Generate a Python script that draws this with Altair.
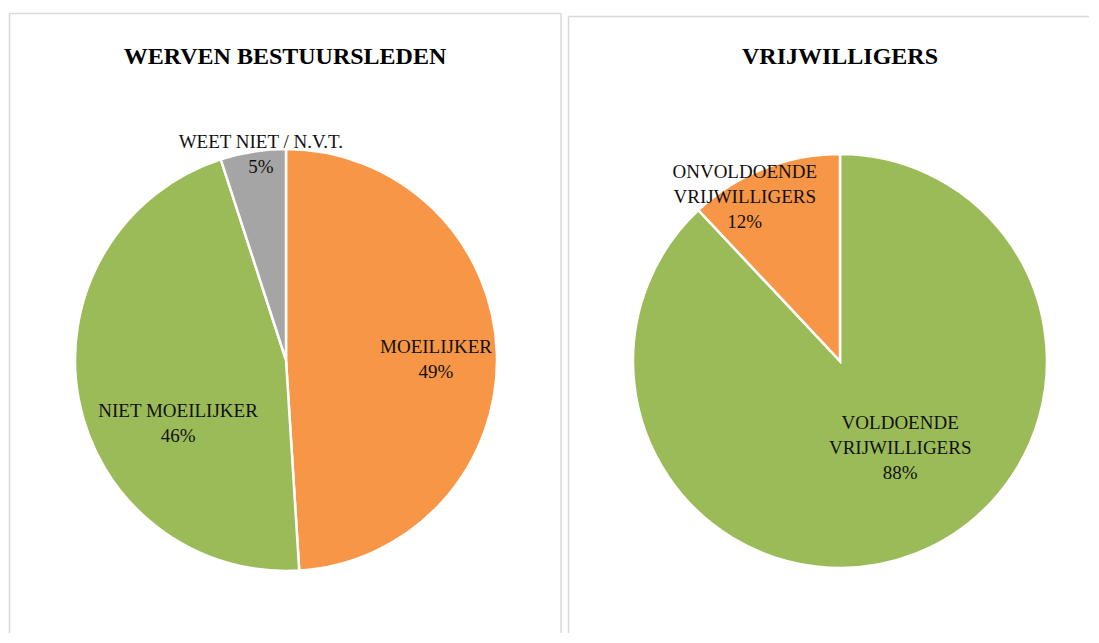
import altair as alt
import pandas as pd

# ---------------- data ----------------
left_title = "WERVEN BESTUURSLEDEN"
left_categories = ["MOEILIJKER", "NIET MOEILIJKER", "WEET NIET / N.V.T."]
left_label_names = ["MOEILIJKER", "NIET MOEILIJKER", "WEET NIET / N.V.T."]
left_values = [49, 46, 5]
left_colors = ["#F79646", "#9BBB59", "#A5A5A5"]

right_title = "VRIJWILLIGERS"
right_categories = ["VOLDOENDE VRIJWILLIGERS", "ONVOLDOENDE VRIJWILLIGERS"]
right_label_names = ["VOLDOENDE\nVRIJWILLIGERS", "ONVOLDOENDE\nVRIJWILLIGERS"]
right_values = [88, 12]
right_colors = ["#9BBB59", "#F79646"]

FONT = "Liberation Serif"
BORDER = "#d9d9d9"
H = 625
LINE_H = 25


def rule_v(x, y0, y1):
    return alt.Chart(pd.DataFrame({"a": [0]})).mark_rule(color=BORDER, strokeWidth=1.5).encode(
        x=alt.value(x), y=alt.value(y0), y2=alt.value(y1))


def rule_h(y, x0, x1):
    return alt.Chart(pd.DataFrame({"a": [0]})).mark_rule(color=BORDER, strokeWidth=1.5).encode(
        y=alt.value(y), x=alt.value(x0), x2=alt.value(x1))


def panel(title, cats, names, values, colors, W, cx, cy, r, label_specs, borders, title_xy):
    labels = [f"{n}\n{v}%" for n, v in zip(names, values)]
    df = pd.DataFrame({
        "cat": cats,
        "value": values,
        "idx": list(range(len(cats))),
        "label": labels,
    })
    nlines = {c: lab.count("\n") + 1 for c, lab in zip(cats, labels)}
    base = alt.Chart(df)
    theta = alt.Theta("value:Q", stack=True)
    order = alt.Order("idx:Q")
    arcs = base.mark_arc(radius=r, stroke="white", strokeWidth=2.5).encode(
        theta=theta,
        order=order,
        color=alt.Color("cat:N", scale=alt.Scale(domain=cats, range=colors), legend=None),
        x=alt.value(cx),
        y=alt.value(cy),
    )
    layers = list(borders) + [arcs]
    for cat, rad, off in label_specs:
        layers.append(
            base.mark_text(
                radius=rad, thetaOffset=off, font=FONT, fontSize=19, lineHeight=LINE_H,
                lineBreak="\n", align="center", baseline="middle", color="#111111",
                dy=-(nlines[cat] - 1) * LINE_H / 2,
            ).encode(
                theta=theta,
                order=order,
                text=alt.condition(alt.datum.cat == cat, alt.Text("label:N"), alt.value("")),
                x=alt.value(cx),
                y=alt.value(cy),
            )
        )
    title_layer = alt.Chart(pd.DataFrame({"t": [title]})).mark_text(
        font=FONT, fontSize=24, fontWeight="bold", align="center", baseline="alphabetic", color="black"
    ).encode(text="t:N", x=alt.value(title_xy[0]), y=alt.value(title_xy[1]))
    layers.append(title_layer)
    return alt.layer(*layers).properties(width=W, height=H)


W1 = 557
W2 = 524

left = panel(
    left_title, left_categories, left_label_names, left_values, left_colors,
    W1, 278, 352, 211,
    [("MOEILIJKER", 150, 0.031), ("NIET MOEILIJKER", 125, -0.340), ("WEET NIET / N.V.T.", 207, 0.035)],
    [rule_v(1.5, 5.5, H), rule_h(5.5, 1.5, 553), rule_v(553, 5.5, H)],
    (277, 56),
)

right = panel(
    right_title, right_categories, right_label_names, right_values, right_colors,
    W2, 275, 353, 207,
    [("VOLDOENDE VRIJWILLIGERS", 106, -0.227), ("ONVOLDOENDE VRIJWILLIGERS", 190, -0.148)],
    [rule_v(3.5, 8.5, H), rule_h(8.5, 3.5, W2)],
    (275, 56),
)

chart = alt.hconcat(left, right, spacing=0).resolve_scale(
    color="independent", theta="independent"
).properties(padding=0, background="white").configure_view(stroke="transparent", strokeWidth=0)

chart.save("out.html", embed_options={"renderer": "svg", "actions": False})
